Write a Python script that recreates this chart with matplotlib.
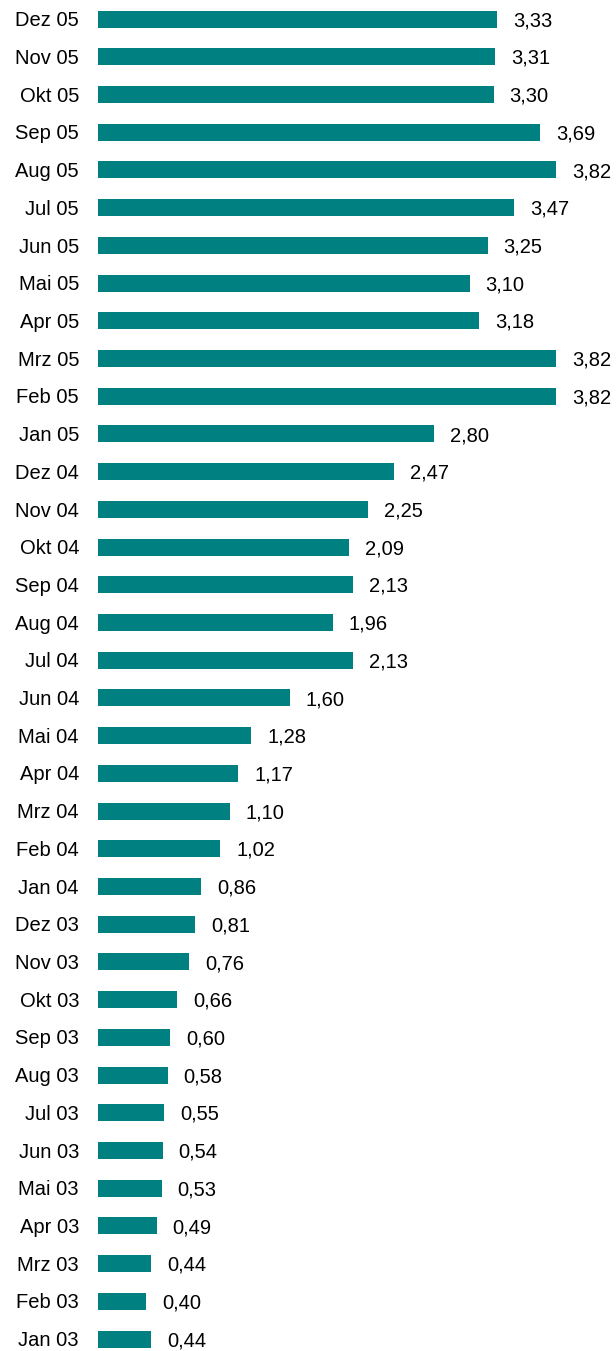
import matplotlib
matplotlib.use("Agg")
import matplotlib.pyplot as plt

months = ["Jan 03", "Feb 03", "Mrz 03", "Apr 03", "Mai 03", "Jun 03", "Jul 03", "Aug 03",
          "Sep 03", "Okt 03", "Nov 03", "Dez 03", "Jan 04", "Feb 04", "Mrz 04", "Apr 04",
          "Mai 04", "Jun 04", "Jul 04", "Aug 04", "Sep 04", "Okt 04", "Nov 04", "Dez 04",
          "Jan 05", "Feb 05", "Mrz 05", "Apr 05", "Mai 05", "Jun 05", "Jul 05", "Aug 05",
          "Sep 05", "Okt 05", "Nov 05", "Dez 05"]
values = [0.44, 0.40, 0.44, 0.49, 0.53, 0.54, 0.55, 0.58,
          0.60, 0.66, 0.76, 0.81, 0.86, 1.02, 1.10, 1.17,
          1.28, 1.60, 2.13, 1.96, 2.13, 2.09, 2.25, 2.47,
          2.80, 3.82, 3.82, 3.18, 3.10, 3.25, 3.47, 3.82,
          3.69, 3.30, 3.31, 3.33]

plt.rcParams['font.family'] = ['Liberation Sans', 'DejaVu Sans']

W, H = 616, 1351
fig = plt.figure(figsize=(W / 100, H / 100), dpi=100)
ax = fig.add_axes([98 / W, 0, (W - 98) / W, 1])

px_per_unit = 458 / 3.82
ax.set_xlim(0, (W - 98) / px_per_unit)
row = 37.714
ax.set_ylim(-12 / row, 1339 / row)

y = list(range(len(values)))
ax.barh(y, values, height=17 / row, color="#008080", linewidth=0)

fs = 14.5
half_cap = 0.716 * fs / 2
for i, v in enumerate(values):
    ax.annotate(f"{v:.2f}".replace(".", ","), xy=(v, i), xytext=(16 * 0.72, -half_cap),
                textcoords="offset points", va="baseline", ha="left",
                fontsize=fs, color="black", annotation_clip=False)
    ax.annotate(months[i], xy=(0, i), xytext=(-19 * 0.72, -half_cap),
                textcoords="offset points", va="baseline", ha="right",
                fontsize=fs, color="black", annotation_clip=False)

ax.axis("off")
fig.savefig("out.png", dpi=100)
